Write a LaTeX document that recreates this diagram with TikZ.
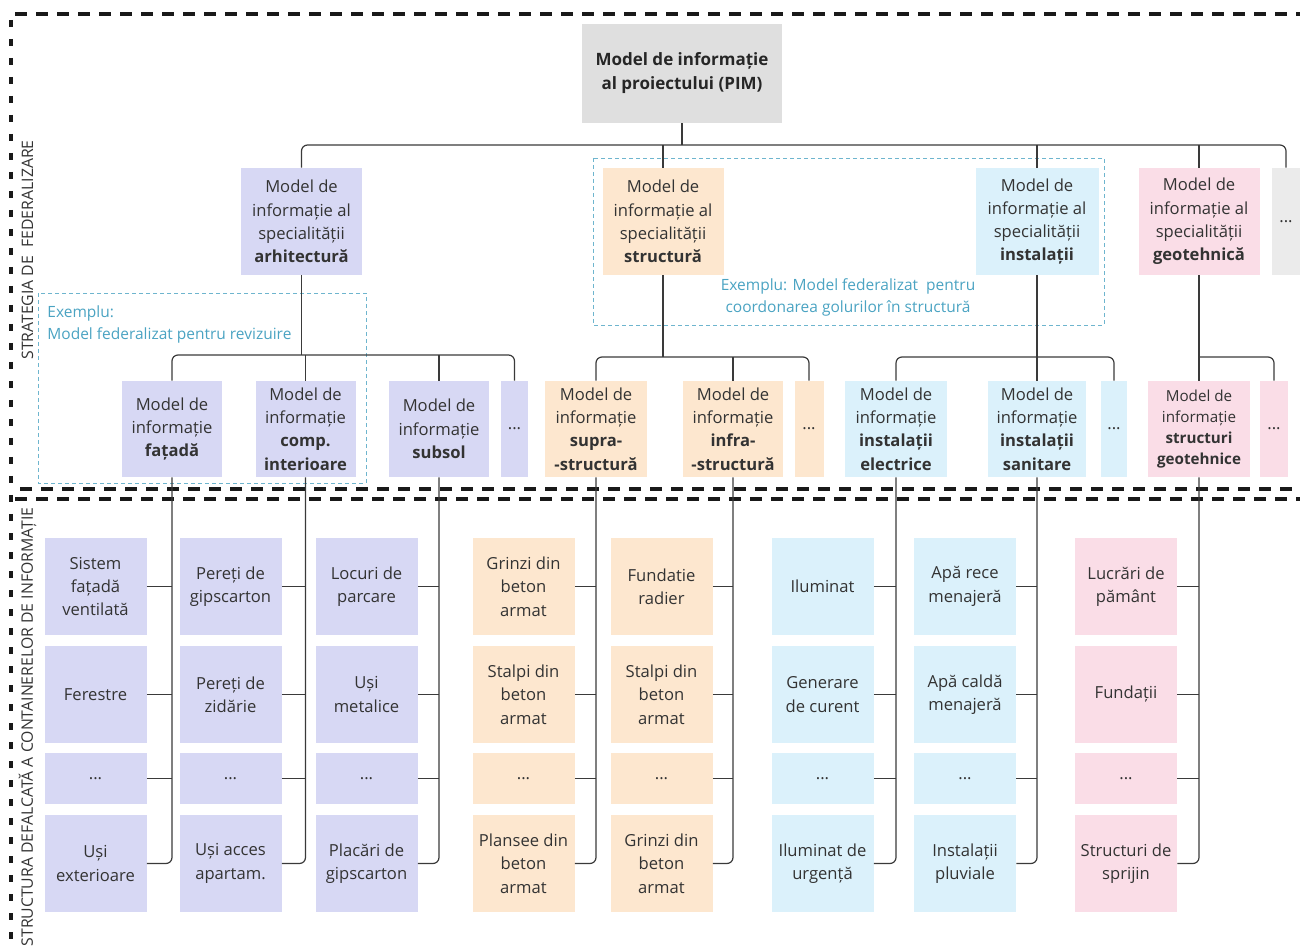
\documentclass[tikz,border=0pt]{standalone}
\usepackage{fontspec}
\setmainfont{Open Sans}
\definecolor{arhc}{HTML}{D7D8F4}
\definecolor{strc}{HTML}{FDE7CF}
\definecolor{insc}{HTML}{DBF1FB}
\definecolor{geoc}{HTML}{FADDE7}
\definecolor{pimc}{HTML}{DFDFDF}
\definecolor{dotc}{HTML}{EBEBEB}
\definecolor{txt}{HTML}{333333}
\definecolor{linec}{HTML}{3A3A3A}
\definecolor{exc}{HTML}{4AA3C2}
\begin{document}
\begin{tikzpicture}[x=0.5pt,y=0.5pt]
  \tikzstyle{every node}+=[inner sep=0pt]
  \tikzstyle{box}=[rectangle, align=center, text=txt, font=\fontsize{8.3}{11.65}\selectfont]
  \tikzstyle{lvone}=[minimum width=60.5pt, minimum height=53.5pt]
  \tikzstyle{lvtwo}=[minimum width=50pt, minimum height=48pt]
  \tikzstyle{dotbox}=[minimum width=13.5pt, minimum height=48pt]
  \tikzstyle{leaf}=[minimum width=51pt, minimum height=48.5pt]
  \tikzstyle{leafdot}=[minimum width=51pt, minimum height=25.5pt]
  \tikzstyle{conn}=[draw=linec, line width=0.6pt, rounded corners=3pt]
  \tikzstyle{sep}=[draw=black!90, line width=1.8pt, dash pattern=on 6pt off 4.5pt]
  \tikzstyle{vsep}=[draw=black!90, line width=1.6pt, dash pattern=on 3.5pt off 6pt]
  \tikzstyle{exbox}=[draw=exc!80, line width=0.4pt, dash pattern=on 2pt off 1.5pt]
  \tikzstyle{extext}=[text=exc, font=\fontsize{7.75}{11}\selectfont]
  \tikzstyle{side}=[text=txt, font=\fontsize{7.9}{9}\selectfont, rotate=90]
  \useasboundingbox (0,0) rectangle (1300,-951);
  % frame and separators
  \draw[sep] (15,-14) -- (1300,-14);
  \draw[vsep] (11,-20) -- (11,-951);
  \draw[sep] (20,-489) -- (1300,-489);
  \draw[sep] (15,-499) -- (1300,-499);
  \node[side] (lab1) at (27.5,-250) {STRATEGIA DE~ FEDERALIZARE};
  \node[side] (lab2) at (27.5,-727) {STRUCTURA DEFALCATĂ A CONTAINERELOR DE INFORMAȚIE};
  % exemple
  \draw[exbox] (38,-293) rectangle (366,-483);
  \node[extext, anchor=north west, align=left] (ex1) at (47,-305) {Exemplu:\\Model federalizat pentru revizuire};
  \draw[exbox] (593,-158) rectangle (1104,-325);
  \node[extext, align=center] (ex2) at (848,-297.5) {Exemplu: Model federalizat~ pentru\\coordonarea golurilor în structură};
  % PIM
  \node[box, fill=pimc, minimum width=100pt, minimum height=49.5pt, font=\fontsize{8.5}{12}\selectfont\bfseries, text=black!85] (pim) at (682,-73.5) {Model de informație\\al proiectului (PIM)};
  % specialitati
  \node[box,lvone,fill=arhc] (arh) at (301.5,-221.5) {Model de\\informație al\\specialității\\\textbf{arhitectură}};
  \node[box,lvone,fill=strc] (str) at (663,-221.5) {Model de\\informație al\\specialității\\\textbf{structură}};
  \node[box,lvone,fill=insc,minimum width=61.5pt] (ins) at (1037,-221.5) {Model de\\informație al\\specialității\\\textbf{instalații}};
  \node[box,lvone,fill=geoc] (geo) at (1199,-221.5) {Model de\\informație al\\specialității\\\textbf{geotehnică}};
  \node[box,lvone,fill=dotc,minimum width=14pt] (rdot) at (1286,-221.5) {...};
  \coordinate (rb) at (682,-145);
  \draw[conn] (pim.south) -- (rb);
  \draw[conn] (arh.north) |- (rb) -| (rdot.north);
  \draw[conn] (str.north) -- (str.north |- rb);
  \draw[conn] (ins.north) -- (ins.north |- rb);
  \draw[conn] (geo.north) -- (geo.north |- rb);
  % modele pe discipline
  \node[box,lvtwo,fill=arhc] (fat) at (172,-429) {Model de\\informație\\\textbf{fațadă}};
  \node[box,lvtwo,fill=arhc] (cin) at (305.5,-429) {Model de\\informație\\\textbf{comp.}\\\textbf{interioare}};
  \node[box,lvtwo,fill=arhc] (sub) at (439,-429) {Model de\\informație\\\textbf{subsol}};
  \node[box,dotbox,fill=arhc] (adot) at (514.5,-429) {...};
  \node[box,lvtwo,fill=strc,minimum width=51pt] (sup) at (596,-429) {Model de\\informație\\\textbf{supra-}\\\textbf{-structură}};
  \node[box,lvtwo,fill=strc] (inf) at (733,-429) {Model de\\informație\\\textbf{infra-}\\\textbf{-structură}};
  \node[box,dotbox,fill=strc,minimum width=14.5pt] (sdot) at (809,-429) {...};
  \node[box,lvtwo,fill=insc,minimum width=51pt] (iel) at (896,-429) {Model de\\informație\\\textbf{instalații}\\\textbf{electrice}};
  \node[box,lvtwo,fill=insc,minimum width=49pt] (isa) at (1037,-429) {Model de\\informație\\\textbf{instalații}\\\textbf{sanitare}};
  \node[box,dotbox,fill=insc,minimum width=13pt] (idot) at (1114,-429) {...};
  \node[box,lvtwo,fill=geoc,minimum width=51pt,font=\fontsize{7.6}{10.6}\selectfont] (sge) at (1199,-429) {Model de\\informație\\\textbf{structuri}\\\textbf{geotehnice}};
  \node[box,dotbox,fill=geoc,minimum width=14pt] (gdot) at (1274,-429) {...};
  \coordinate (ab) at (301.5,-355);
  \draw[conn] (arh.south) -- (ab);
  \draw[conn] (fat.north) |- (ab) -| (adot.north);
  \draw[conn] (cin.north) -- (cin.north |- ab);
  \draw[conn] (sub.north) -- (sub.north |- ab);
  \coordinate (sb) at (663,-357);
  \draw[conn] (str.south) -- (sb);
  \draw[conn] (sup.north) |- (sb) -| (sdot.north);
  \draw[conn] (inf.north) -- (inf.north |- sb);
  \coordinate (ib) at (1037,-357);
  \draw[conn] (ins.south) -- (isa.north);
  \draw[conn] (iel.north) |- (ib) -| (idot.north);
  \coordinate (gb) at (1199,-357);
  \draw[conn] (geo.south) -- (sge.north);
  \draw[conn] (gb) -| (gdot.north);
  % containere de informatie
  \node[box,leaf,fill=arhc] (f1) at (95.5,-586.5) {Sistem\\fațadă\\ventilată};
  \node[box,leaf,fill=arhc] (f2) at (95.5,-694.5) {Ferestre};
  \node[box,leafdot,fill=arhc] (f3) at (95.5,-778.5) {...};
  \node[box,leaf,fill=arhc] (f4) at (95.5,-863.5) {Uși\\exterioare};
  \node[box,leaf,fill=arhc] (ci1) at (230.5,-586.5) {Pereți de\\gipscarton};
  \node[box,leaf,fill=arhc] (ci2) at (230.5,-694.5) {Pereți de\\zidărie};
  \node[box,leafdot,fill=arhc] (ci3) at (230.5,-778.5) {...};
  \node[box,leaf,fill=arhc] (ci4) at (230.5,-863.5) {Uși acces\\apartam.};
  \node[box,leaf,fill=arhc] (sb1) at (366.5,-586.5) {Locuri de\\parcare};
  \node[box,leaf,fill=arhc] (sb2) at (366.5,-694.5) {Uși\\metalice};
  \node[box,leafdot,fill=arhc] (sb3) at (366.5,-778.5) {...};
  \node[box,leaf,fill=arhc] (sb4) at (366.5,-863.5) {Placări de\\gipscarton};
  \node[box,leaf,fill=strc] (su1) at (523.5,-586.5) {Grinzi din\\beton\\armat};
  \node[box,leaf,fill=strc] (su2) at (523.5,-694.5) {Stalpi din\\beton\\armat};
  \node[box,leafdot,fill=strc] (su3) at (523.5,-778.5) {...};
  \node[box,leaf,fill=strc] (su4) at (523.5,-863.5) {Plansee din\\beton\\armat};
  \node[box,leaf,fill=strc] (in1) at (661.5,-586.5) {Fundatie\\radier};
  \node[box,leaf,fill=strc] (in2) at (661.5,-694.5) {Stalpi din\\beton\\armat};
  \node[box,leafdot,fill=strc] (in3) at (661.5,-778.5) {...};
  \node[box,leaf,fill=strc] (in4) at (661.5,-863.5) {Grinzi din\\beton\\armat};
  \node[box,leaf,fill=insc] (ie1) at (822.5,-586.5) {Iluminat};
  \node[box,leaf,fill=insc] (ie2) at (822.5,-694.5) {Generare\\de curent};
  \node[box,leafdot,fill=insc] (ie3) at (822.5,-778.5) {...};
  \node[box,leaf,fill=insc] (ie4) at (822.5,-863.5) {Iluminat de\\urgență};
  \node[box,leaf,fill=insc] (is1) at (965,-586.5) {Apă rece\\menajeră};
  \node[box,leaf,fill=insc] (is2) at (965,-694.5) {Apă caldă\\menajeră};
  \node[box,leafdot,fill=insc] (is3) at (965,-778.5) {...};
  \node[box,leaf,fill=insc] (is4) at (965,-863.5) {Instalații\\pluviale};
  \node[box,leaf,fill=geoc] (sg1) at (1126,-586.5) {Lucrări de\\pământ};
  \node[box,leaf,fill=geoc] (sg2) at (1126,-694.5) {Fundații};
  \node[box,leafdot,fill=geoc] (sg3) at (1126,-778.5) {...};
  \node[box,leaf,fill=geoc] (sg4) at (1126,-863.5) {Structuri de\\sprijin};
  \draw[conn] (fat.south) |- (f4.east);
  \draw[conn] (f1.east) -- (f1.east -| fat.south);
  \draw[conn] (f2.east) -- (f2.east -| fat.south);
  \draw[conn] (f3.east) -- (f3.east -| fat.south);
  \draw[conn] (cin.south) |- (ci4.east);
  \draw[conn] (ci1.east) -- (ci1.east -| cin.south);
  \draw[conn] (ci2.east) -- (ci2.east -| cin.south);
  \draw[conn] (ci3.east) -- (ci3.east -| cin.south);
  \draw[conn] (sub.south) |- (sb4.east);
  \draw[conn] (sb1.east) -- (sb1.east -| sub.south);
  \draw[conn] (sb2.east) -- (sb2.east -| sub.south);
  \draw[conn] (sb3.east) -- (sb3.east -| sub.south);
  \draw[conn] (sup.south) |- (su4.east);
  \draw[conn] (su1.east) -- (su1.east -| sup.south);
  \draw[conn] (su2.east) -- (su2.east -| sup.south);
  \draw[conn] (su3.east) -- (su3.east -| sup.south);
  \draw[conn] (inf.south) |- (in4.east);
  \draw[conn] (in1.east) -- (in1.east -| inf.south);
  \draw[conn] (in2.east) -- (in2.east -| inf.south);
  \draw[conn] (in3.east) -- (in3.east -| inf.south);
  \draw[conn] (iel.south) |- (ie4.east);
  \draw[conn] (ie1.east) -- (ie1.east -| iel.south);
  \draw[conn] (ie2.east) -- (ie2.east -| iel.south);
  \draw[conn] (ie3.east) -- (ie3.east -| iel.south);
  \draw[conn] (isa.south) |- (is4.east);
  \draw[conn] (is1.east) -- (is1.east -| isa.south);
  \draw[conn] (is2.east) -- (is2.east -| isa.south);
  \draw[conn] (is3.east) -- (is3.east -| isa.south);
  \draw[conn] (sge.south) |- (sg4.east);
  \draw[conn] (sg1.east) -- (sg1.east -| sge.south);
  \draw[conn] (sg2.east) -- (sg2.east -| sge.south);
  \draw[conn] (sg3.east) -- (sg3.east -| sge.south);
\end{tikzpicture}
\end{document}
